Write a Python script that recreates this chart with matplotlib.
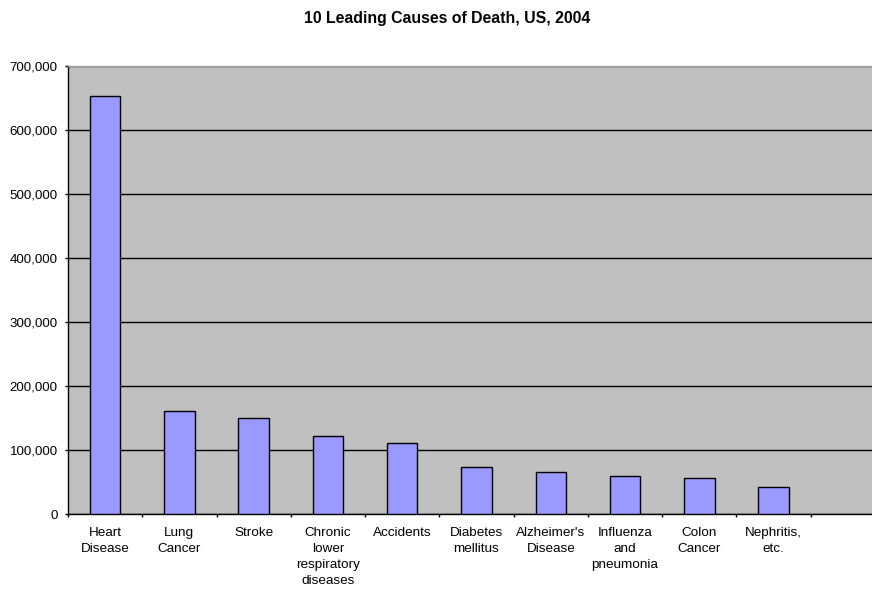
import numpy as np
import matplotlib.pyplot as plt
from matplotlib.ticker import FuncFormatter, MultipleLocator

plt.rcParams['font.family'] = ['Liberation Sans', 'DejaVu Sans']

causes = ['Heart\nDisease', 'Lung\nCancer', 'Stroke', 'Chronic\nlower\nrespiratory\ndiseases',
          'Accidents', 'Diabetes\nmellitus', "Alzheimer's\nDisease", 'Influenza\nand\npneumonia',
          'Colon\nCancer', 'Nephritis,\netc.', '']
deaths = [652486, 160900, 150074, 121987, 112012, 73138, 65965, 59664, 56700, 42480, 0]

fig = plt.figure(figsize=(8.72, 5.89), dpi=100)
ax = fig.add_axes([68 / 872, 1 - 514.3 / 589, 817 / 872, (514.3 - 66) / 589])
ax.set_facecolor('#C0C0C0')

x = np.arange(len(causes))
vals = np.array(deaths[:-1])
ax.bar(x[:-1], vals, width=0.41, color='#9999FF', edgecolor='black', linewidth=1.0, zorder=3)

ax.set_xlim(-0.5, len(causes) - 0.5)
ax.set_ylim(0, 700000)
ax.yaxis.set_major_locator(MultipleLocator(100000))
ax.yaxis.set_major_formatter(FuncFormatter(lambda v, p: f'{int(v):,}'))
ax.yaxis.grid(True, color='black', linewidth=1.0, zorder=1)

# category labels centred, boundary ticks between categories
ax.set_xticks(x)
ax.set_xticklabels(causes, linespacing=1.42)
ax.set_xticks(np.arange(-0.5, len(causes) - 0.4, 1), minor=True)
ax.tick_params(axis='x', which='major', length=0, pad=9.3, labelsize=9.7)
ax.tick_params(axis='x', which='minor', length=2.4, width=1, direction='out')
ax.tick_params(axis='y', length=2.5, width=1, pad=5, labelsize=9.6)

for side in ['left', 'bottom']:
    ax.spines[side].set_color('black')
    ax.spines[side].set_linewidth(1.0)
for side in ['top', 'right']:
    ax.spines[side].set_color('#A0A0A0')
    ax.spines[side].set_linewidth(1.0)

fig.text(447 / 872, 1 - 19 / 589, '10 Leading Causes of Death, US, 2004',
         ha='center', va='center', fontsize=11.4, fontweight='bold')

fig.savefig('out.png', dpi=100)
